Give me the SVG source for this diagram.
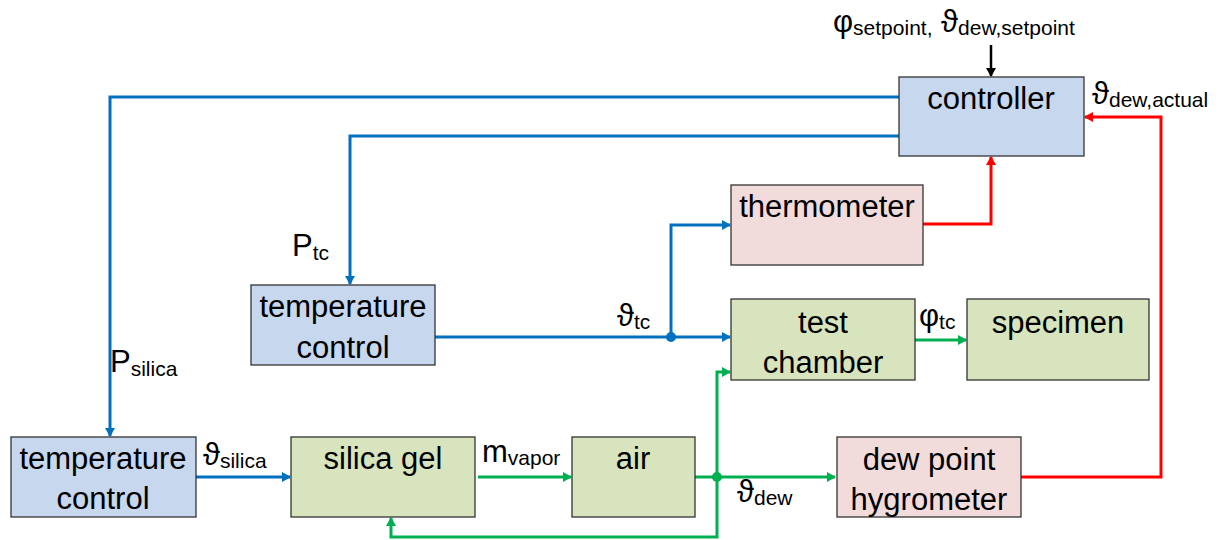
<svg xmlns="http://www.w3.org/2000/svg" width="1222" height="540" viewBox="0 0 1222 540">
<defs>
<style>
.box{stroke:#333;stroke-width:1.3}
.blue{fill:#c6d7ee}.green{fill:#d7e4bd}.pink{fill:#f2dcdb}
.t{font-family:"Liberation Sans",Arial,sans-serif;font-size:31px;fill:#000;text-anchor:middle}
.l{font-family:"Liberation Sans",Arial,sans-serif;font-size:31px;fill:#000}
.s{font-size:21px}
.cb{fill:none;stroke:#0070c0;stroke-width:3}
.cg{fill:none;stroke:#00b050;stroke-width:3}
.cr{fill:none;stroke:#ff0000;stroke-width:3}
.ck{fill:none;stroke:#000;stroke-width:2.5}
</style>
<marker id="ab" markerWidth="10" markerHeight="10" refX="8" refY="5" orient="auto" markerUnits="userSpaceOnUse"><path d="M0,0 L9,5 L0,10 z" fill="#0070c0"/></marker>
<marker id="ag" markerWidth="10" markerHeight="10" refX="8" refY="5" orient="auto" markerUnits="userSpaceOnUse"><path d="M0,0 L9,5 L0,10 z" fill="#00b050"/></marker>
<marker id="ar" markerWidth="10" markerHeight="10" refX="8" refY="5" orient="auto" markerUnits="userSpaceOnUse"><path d="M0,0 L9,5 L0,10 z" fill="#ff0000"/></marker>
<marker id="ak" markerWidth="10" markerHeight="10" refX="8" refY="5" orient="auto" markerUnits="userSpaceOnUse"><path d="M0,0 L9,5 L0,10 z" fill="#000"/></marker>
</defs>
<rect width="1222" height="540" fill="#fff"/>
<g id="connectors">
<path class="ck" d="M991,45 V76" marker-end="url(#ak)"/>
<path class="cb" d="M899,97 H110 V436" marker-end="url(#ab)"/>
<path class="cb" d="M899,136 H350 V284" marker-end="url(#ab)"/>
<path class="cb" d="M435,337 H730" marker-end="url(#ab)"/>
<path class="cb" d="M671,337 V225 H730" marker-end="url(#ab)"/>
<circle cx="671" cy="337" r="5" fill="#0070c0"/>
<path class="cr" d="M923,224 H991 V157" marker-end="url(#ar)"/>
<path class="cr" d="M1021,477 H1161 V117 H1085" marker-end="url(#ar)"/>
<path class="cg" d="M915,340 H966" marker-end="url(#ag)"/>
<path class="cb" d="M196,477 H290" marker-end="url(#ab)"/>
<path class="cg" d="M478,477 H571" marker-end="url(#ag)"/>
<path class="cg" d="M695,477 H835" marker-end="url(#ag)"/>
<path class="cg" d="M717,477 V372 H730" marker-end="url(#ag)"/>
<path class="cg" d="M717,477 V537 H391 V518" marker-end="url(#ag)"/>
<circle cx="717" cy="477" r="5" fill="#00b050"/>
</g>
<g id="labels">
<text class="l" x="833" y="32">φ<tspan class="s" dy="3">setpoint,</tspan><tspan dy="-3"> ϑ</tspan><tspan class="s" dy="3">dew,setpoint</tspan></text>
<text class="l" x="1092" y="104">ϑ<tspan class="s" dy="3">dew,actual</tspan></text>
<text class="l" x="292" y="256">P<tspan class="s" dy="4">tc</tspan></text>
<text class="l" x="110" y="372">P<tspan class="s" dy="4">silica</tspan></text>
<text class="l" x="617" y="326">ϑ<tspan class="s" dy="3">tc</tspan></text>
<text class="l" x="919" y="326">φ<tspan class="s" dy="3">tc</tspan></text>
<text class="l" x="203" y="465">ϑ<tspan class="s" dy="3">silica</tspan></text>
<text class="l" x="482" y="462">m<tspan class="s" dy="3">vapor</tspan></text>
<text class="l" x="737" y="502">ϑ<tspan class="s" dy="3">dew</tspan></text>
</g>
<g id="controller"><rect class="box blue" x="899" y="77" width="185" height="79"/><text class="t" x="991" y="109">controller</text></g>
<g id="thermometer"><rect class="box pink" x="731" y="185" width="192" height="80"/><text class="t" x="827" y="217">thermometer</text></g>
<g id="temp-control-tc"><rect class="box blue" x="251" y="285" width="184" height="80"/><text class="t" x="343" y="317">temperature</text><text class="t" x="343" y="358">control</text></g>
<g id="test-chamber"><rect class="box green" x="731" y="299" width="184" height="81"/><text class="t" x="823" y="333">test</text><text class="t" x="823" y="373">chamber</text></g>
<g id="specimen"><rect class="box green" x="967" y="299" width="182" height="81"/><text class="t" x="1058" y="333">specimen</text></g>
<g id="temp-control-silica"><rect class="box blue" x="11" y="437" width="185" height="80"/><text class="t" x="103" y="469">temperature</text><text class="t" x="103" y="509">control</text></g>
<g id="silica-gel"><rect class="box green" x="291" y="437" width="184" height="80"/><text class="t" x="383" y="469">silica gel</text></g>
<g id="air"><rect class="box green" x="572" y="437" width="123" height="80"/><text class="t" x="633" y="469">air</text></g>
<g id="dew-point-hygrometer"><rect class="box pink" x="837" y="437" width="184" height="80"/><text class="t" x="929" y="470">dew point</text><text class="t" x="929" y="510">hygrometer</text></g>
</svg>
